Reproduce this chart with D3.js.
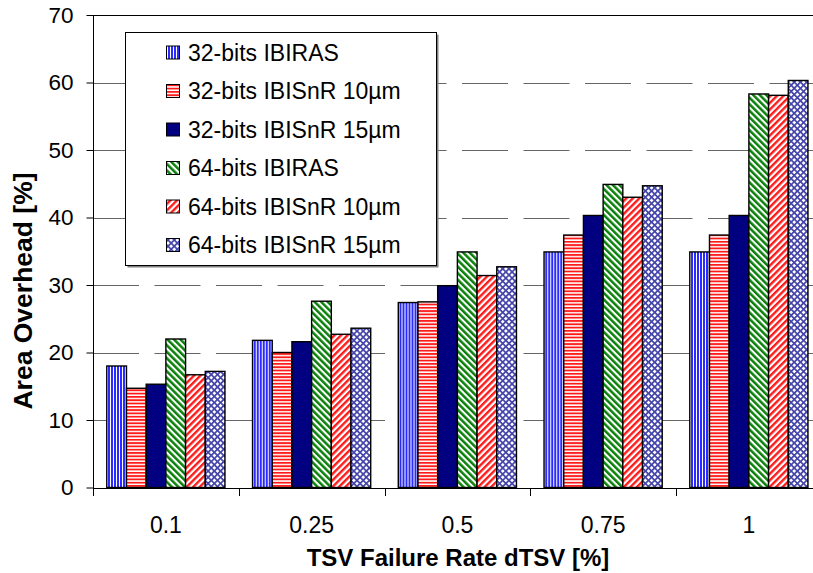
<!DOCTYPE html>
<html>
<head>
<meta charset="utf-8">
<script src="https://cdn.jsdelivr.net/npm/d3@7/dist/d3.min.js"></script>
<style>
  html, body { margin: 0; padding: 0; background: #fff; }
  svg { display: block; font-family: "Liberation Sans", Arial, Helvetica, sans-serif; }
</style>
</head>
<body>
<svg id="chart" width="813" height="573"></svg>
<script>
// Failure-rate categories (x axis)
const categories = ["0.1", "0.25", "0.5", "0.75", "1"];

// Series names, in legend order
const seriesNames = [
  "32-bits IBIRAS",
  "32-bits IBISnR 10µm",
  "32-bits IBISnR 15µm",
  "64-bits IBIRAS",
  "64-bits IBISnR 10µm",
  "64-bits IBISnR 15µm"
];

// Area overhead [%] per series, one value per category
const ibiras32   = [18.0, 21.8, 27.4, 34.9, 34.9];
const ibisnr10_32 = [14.7, 20.0, 27.5, 37.4, 37.4];
const ibisnr15_32 = [15.3, 21.6, 29.9, 40.3, 40.3];
const ibiras64   = [22.0, 27.6, 34.9, 44.9, 58.3];
const ibisnr10_64 = [16.7, 22.7, 31.4, 43.0, 58.1];
const ibisnr15_64 = [17.2, 23.6, 32.7, 44.7, 60.3];

const seriesValues = [ibiras32, ibisnr10_32, ibisnr15_32, ibiras64, ibisnr10_64, ibisnr15_64];

// Y axis ticks
const yTicks = [0, 10, 20, 30, 40, 50, 60, 70];

const svg = d3.select("#chart");

// ---- fill patterns ----
const defs = svg.append("defs");

function stripePattern(id, period, band, color, angle, horizontal) {
  const p = defs.append("pattern")
    .attr("id", id)
    .attr("patternUnits", "userSpaceOnUse")
    .attr("width", horizontal ? 10 : period)
    .attr("height", horizontal ? period : 10);
  if (angle) p.attr("patternTransform", `rotate(${angle})`);
  p.append("rect").attr("width", horizontal ? 10 : period).attr("height", horizontal ? period : 10).attr("fill", "#fff");
  p.append("rect")
    .attr("width", horizontal ? 10 : band)
    .attr("height", horizontal ? band : 10)
    .attr("fill", color);
}

stripePattern("pVert", 3, 2, "#2b2bff", 0, false);          // narrow vertical blue
stripePattern("pHoriz", 3.3, 1.8, "#ff1a1a", 0, true);       // narrow horizontal red
stripePattern("pDiagDown", 4.6, 2.5, "#0a800a", -45, false); // wide downward diagonal green
stripePattern("pDiagUp", 4.6, 2.4, "#ff1a1a", 45, false);    // wide upward diagonal red

// small lattice for the last series
const lat = defs.append("pattern")
  .attr("id", "pLattice")
  .attr("patternUnits", "userSpaceOnUse")
  .attr("width", 4.4).attr("height", 4.4)
  .attr("patternTransform", "rotate(45)");
lat.append("rect").attr("width", 4.4).attr("height", 4.4).attr("fill", "#fff");
lat.append("rect").attr("width", 1.7).attr("height", 4.4).attr("fill", "#4444aa");
lat.append("rect").attr("width", 4.4).attr("height", 1.7).attr("fill", "#4444aa");

const fills = ["url(#pVert)", "url(#pHoriz)", "#000080", "url(#pDiagDown)", "url(#pDiagUp)", "url(#pLattice)"];

// ---- scales ----
const plotLeft = 93, plotRight = 821.75, plotTop = 15, plotBottom = 487.5;

const x0 = d3.scaleBand().domain(categories).range([plotLeft, plotRight]).paddingInner(0).paddingOuter(0);
const x1 = d3.scaleBand().domain(d3.range(seriesNames.length)).range([0, x0.bandwidth()]).paddingInner(0).paddingOuter(0.7);
const y = d3.scaleLinear().domain([0, 70]).range([plotBottom, plotTop]);

// ---- gridlines ----
const grid = svg.append("g");
grid.selectAll("line.grid")
  .data(yTicks.filter(t => t > 0 && t < 70))
  .join("line")
  .attr("x1", plotLeft).attr("x2", 813)
  .attr("y1", d => Math.round(y(d)) + 0.5).attr("y2", d => Math.round(y(d)) + 0.5)
  .attr("stroke", "#666")
  .attr("stroke-width", 1)
  .attr("stroke-dasharray", "46,15.5");
// solid top edge at the maximum tick
grid.append("line")
  .attr("x1", plotLeft).attr("x2", 813)
  .attr("y1", Math.round(y(70)) + 0.5).attr("y2", Math.round(y(70)) + 0.5)
  .attr("stroke", "#000").attr("stroke-width", 1);

// ---- bars ----
const groups = svg.append("g").selectAll("g")
  .data(categories)
  .join("g")
  .attr("transform", d => `translate(${x0(d)},0)`);

groups.selectAll("rect")
  .data((d, ci) => seriesValues.map((vals, si) => ({ si, v: vals[ci] })))
  .join("rect")
  .attr("x", d => x1(d.si))
  .attr("y", d => y(d.v))
  .attr("width", x1.bandwidth())
  .attr("height", d => y(0) - y(d.v))
  .attr("fill", d => fills[d.si])
  .attr("stroke", "#000")
  .attr("stroke-width", 1.4);

// ---- axes ----
const yAxis = d3.axisLeft(y).tickValues(yTicks).tickSize(7).tickPadding(13);
const yG = svg.append("g").attr("transform", `translate(${plotLeft + 0.5},0)`).call(yAxis);
yG.select(".domain").attr("stroke", "#000").attr("d", `M0,${plotTop}V${plotBottom + 8}`);
yG.selectAll(".tick line").attr("stroke", "#000");
yG.selectAll(".tick text")
  .attr("font-size", 22.5)
  .attr("font-family", "Liberation Sans, Arial, sans-serif")
  .attr("fill", "#000");

const xAxis = d3.axisBottom(x0).tickSize(0).tickPadding(0).tickFormat(d => d);
const xG = svg.append("g").attr("transform", `translate(0,${Math.round(plotBottom) + 0.5})`).call(xAxis);
xG.select(".domain").attr("stroke", "#000").attr("d", `M${plotLeft},0H813`);
xG.selectAll(".tick text")
  .attr("font-size", 23)
  .attr("font-family", "Liberation Sans, Arial, sans-serif")
  .attr("fill", "#000")
  .attr("dy", null)
  .attr("y", 44);

// category separators below the axis
svg.append("g").selectAll("line")
  .data(categories)
  .join("line")
  .attr("x1", d => Math.round(x0(d)) + 0.5)
  .attr("x2", d => Math.round(x0(d)) + 0.5)
  .attr("y1", Math.round(plotBottom))
  .attr("y2", Math.round(plotBottom) + 8)
  .attr("stroke", "#000");

// ---- axis titles ----
svg.append("text")
  .attr("x", 458).attr("y", 566)
  .attr("text-anchor", "middle")
  .attr("font-size", 24).attr("font-weight", "bold")
  .text("TSV Failure Rate dTSV [%]");

svg.append("text")
  .attr("transform", "translate(32,291) rotate(-90)")
  .attr("text-anchor", "middle")
  .attr("font-size", 26.5).attr("font-weight", "bold")
  .text("Area Overhead [%]");

// ---- legend ----
const lg = svg.append("g");
lg.append("rect")
  .attr("x", 127.5).attr("y", 34.5).attr("width", 311).attr("height", 233)
  .attr("fill", "#808080");
lg.append("rect")
  .attr("x", 125.5).attr("y", 32.5).attr("width", 311).attr("height", 233)
  .attr("fill", "#fff").attr("stroke", "#000").attr("stroke-width", 1);

const items = lg.selectAll("g.item")
  .data(seriesNames)
  .join("g")
  .attr("transform", (d, i) => `translate(0,${52.5 + i * 38.5})`);
items.append("rect")
  .attr("x", 166.5).attr("y", -6.5).attr("width", 13).attr("height", 13)
  .attr("fill", (d, i) => fills[i])
  .attr("stroke", "#000").attr("stroke-width", 1);
items.append("text")
  .attr("x", 188).attr("y", 0).attr("dy", "0.36em")
  .attr("font-size", 23)
  .text(d => d);
</script>
</body>
</html>
